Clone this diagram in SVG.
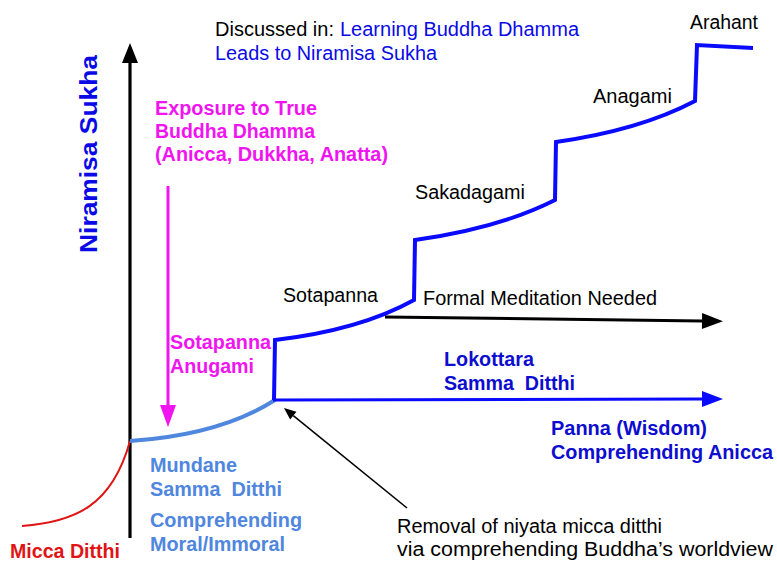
<svg xmlns="http://www.w3.org/2000/svg" width="777" height="561" viewBox="0 0 777 561">
<defs>
<style>
text{font-family:"Liberation Sans",Arial,Helvetica,sans-serif;font-size:19.5px;white-space:pre}
.b{font-weight:bold;font-size:20px}
.blk{fill:#000}
.blu{fill:#0a0ae6}
.bt{fill:#0d0dd0}
.mag{fill:#f014f0}
.lb{fill:#4f86de}
.red{fill:#e01414}
</style>
<marker id="hAxis" markerUnits="userSpaceOnUse" markerWidth="20" markerHeight="16" refX="0" refY="8" orient="auto" overflow="visible"><path d="M0,0 L20,8 L0,16 Z" fill="#000"/></marker>
<marker id="hMag" markerUnits="userSpaceOnUse" markerWidth="22" markerHeight="16" refX="0" refY="8" orient="auto" overflow="visible"><path d="M0,0 L22,8 L0,16 Z" fill="#f014f0"/></marker>
<marker id="hBlack" markerUnits="userSpaceOnUse" markerWidth="21" markerHeight="16" refX="0" refY="8" orient="auto" overflow="visible"><path d="M0,0 L21,8 L0,16 Z" fill="#000"/></marker>
<marker id="hBlue" markerUnits="userSpaceOnUse" markerWidth="21" markerHeight="16" refX="0" refY="8" orient="auto" overflow="visible"><path d="M0,0 L21,8 L0,16 Z" fill="#0a0aff"/></marker>
<marker id="hThin" markerUnits="userSpaceOnUse" markerWidth="12" markerHeight="10" refX="0" refY="5" orient="auto" overflow="visible"><path d="M0,0 L12,5 L0,10 Z" fill="#000"/></marker>
</defs>
<rect width="777" height="561" fill="#fff"/>

<g id="axis">
<line x1="130" y1="538" x2="130" y2="63" stroke="#000" stroke-width="3.2" marker-end="url(#hAxis)"/>
<text id="axis-label" class="b blu" transform="translate(97,253) rotate(-90)" textLength="198" lengthAdjust="spacingAndGlyphs" style="font-size:24px">Niramisa Sukha</text>
</g>

<g id="curves">
<path id="micca-curve" d="M22,526 C75,522 112,506 130,441" fill="none" stroke="#e01414" stroke-width="2"/>
<path id="mundane-curve" d="M130,441 Q220,435 275,400" fill="none" stroke="#4f86de" stroke-width="4"/>
<path id="staircase" d="M274,400 L275,340 Q360,330 414,300 L415,240 Q500,228 555,200 L556,142 Q640,130 695,101 L697,45 L753,48" fill="none" stroke="#0a0aff" stroke-width="4" stroke-linejoin="miter"/>
</g>

<g id="connectors">
<line x1="168" y1="186" x2="168" y2="405" stroke="#f014f0" stroke-width="3" marker-end="url(#hMag)"/>
<line x1="385" y1="317" x2="702" y2="321" stroke="#000" stroke-width="3" marker-end="url(#hBlack)"/>
<line x1="273" y1="400" x2="702" y2="399" stroke="#0a0aff" stroke-width="3" marker-end="url(#hBlue)"/>
<line x1="407" y1="508" x2="293.3" y2="415.6" stroke="#000" stroke-width="1.6" marker-end="url(#hThin)"/>
</g>

<g id="note-discussed">
<text x="215" y="36" class="blk" style="font-size:20px">Discussed in: <tspan class="blu" x="340">Learning Buddha Dhamma</tspan></text>
<text x="215" y="60" class="blu" textLength="222" lengthAdjust="spacingAndGlyphs">Leads to Niramisa Sukha</text>
</g>

<g id="exposure">
<text x="155" y="115" class="b mag" textLength="162" lengthAdjust="spacingAndGlyphs">Exposure to True</text>
<text x="155" y="138" class="b mag" textLength="160" lengthAdjust="spacingAndGlyphs">Buddha Dhamma</text>
<text x="155" y="161" class="b mag" textLength="233" lengthAdjust="spacingAndGlyphs">(Anicca, Dukkha, Anatta)</text>
</g>

<g id="sotapanna-anugami">
<text x="170" y="349" class="b mag" textLength="101" lengthAdjust="spacingAndGlyphs">Sotapanna</text>
<text x="170" y="373" class="b mag" textLength="84" lengthAdjust="spacingAndGlyphs">Anugami</text>
</g>

<g id="stages">
<text x="283" y="302" class="blk" textLength="95" lengthAdjust="spacingAndGlyphs">Sotapanna</text>
<text x="415" y="199" class="blk" textLength="110" lengthAdjust="spacingAndGlyphs">Sakadagami</text>
<text x="593" y="103" class="blk" textLength="79" lengthAdjust="spacingAndGlyphs">Anagami</text>
<text x="690" y="29" class="blk" textLength="68" lengthAdjust="spacingAndGlyphs">Arahant</text>
</g>

<g id="formal-meditation">
<text x="423" y="305" class="blk" textLength="234" lengthAdjust="spacingAndGlyphs">Formal Meditation Needed</text>
</g>

<g id="lokottara">
<text x="444" y="366" class="b bt" textLength="90" lengthAdjust="spacingAndGlyphs">Lokottara</text>
<text x="444" y="390" class="b bt" textLength="131" lengthAdjust="spacingAndGlyphs">Samma  Ditthi</text>
</g>

<g id="panna">
<text x="551" y="435" class="b bt" textLength="156" lengthAdjust="spacingAndGlyphs">Panna (Wisdom)</text>
<text x="551" y="459" class="b bt" textLength="222" lengthAdjust="spacingAndGlyphs">Comprehending Anicca</text>
</g>

<g id="mundane">
<text x="150" y="472" class="b lb" textLength="87" lengthAdjust="spacingAndGlyphs">Mundane</text>
<text x="150" y="496" class="b lb" textLength="132" lengthAdjust="spacingAndGlyphs">Samma  Ditthi</text>
<text x="150" y="527" class="b lb" textLength="152" lengthAdjust="spacingAndGlyphs">Comprehending</text>
<text x="150" y="551" class="b lb" textLength="135" lengthAdjust="spacingAndGlyphs">Moral/Immoral</text>
</g>

<g id="micca">
<text x="10" y="558" class="b red" textLength="110" lengthAdjust="spacingAndGlyphs">Micca Ditthi</text>
</g>

<g id="removal">
<text x="397" y="533" class="blk" textLength="265" lengthAdjust="spacingAndGlyphs">Removal of niyata micca ditthi</text>
<text x="397" y="556" class="blk" textLength="376" lengthAdjust="spacingAndGlyphs">via comprehending Buddha’s worldview</text>
</g>
</svg>
